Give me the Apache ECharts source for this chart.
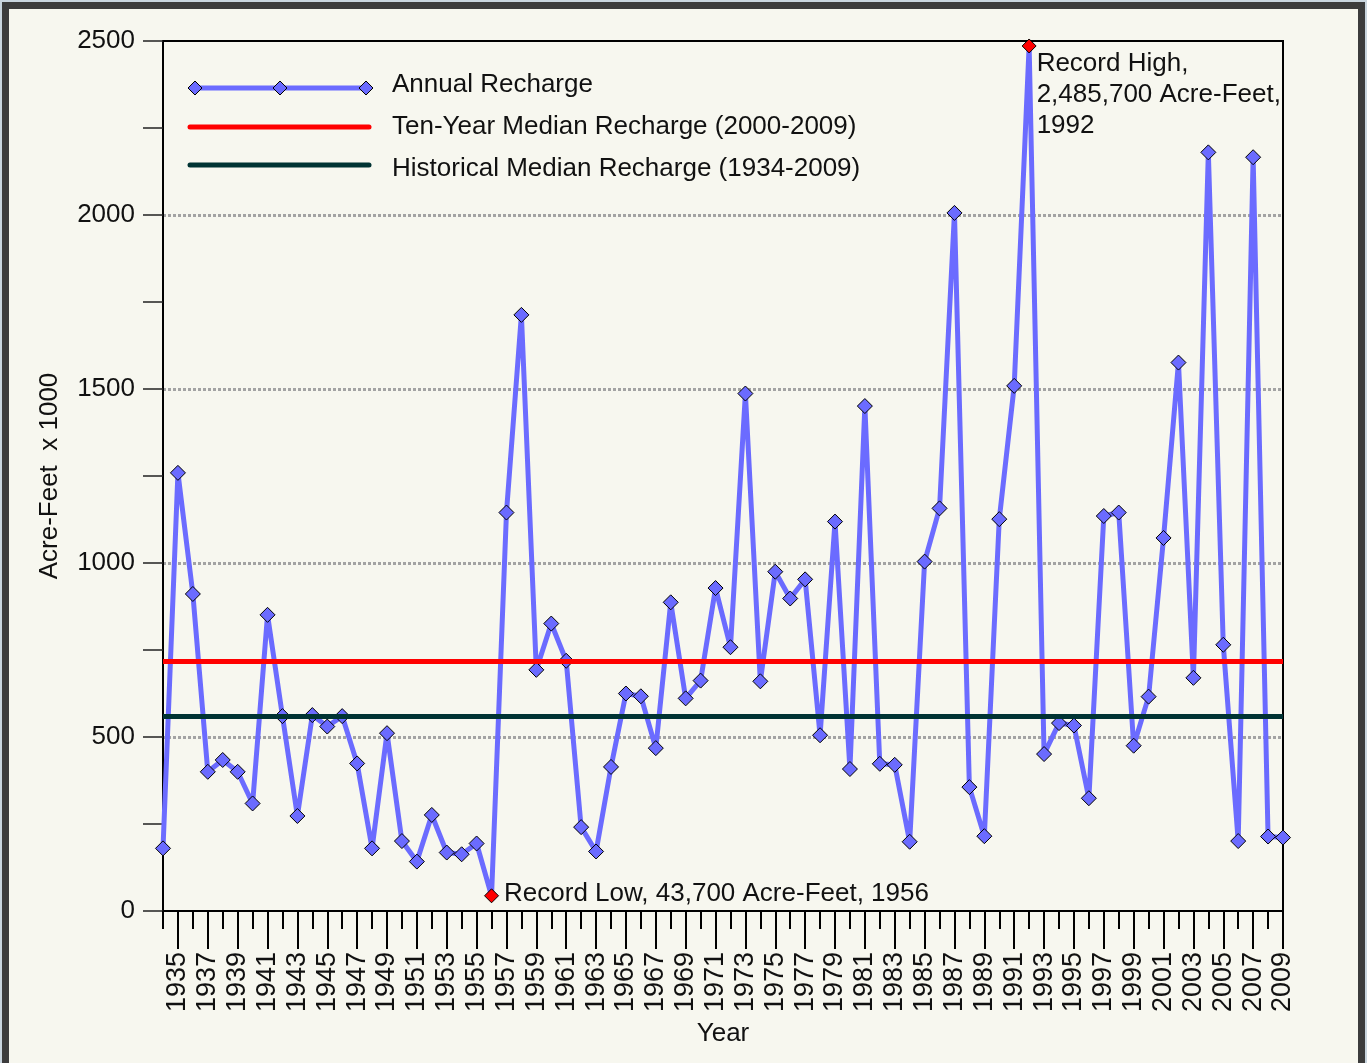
<!DOCTYPE html>
<html>
<head>
<meta charset="utf-8">
<title>Annual Recharge</title>
<script src="https://cdn.jsdelivr.net/npm/echarts@6/dist/echarts.min.js"></script>
<style>
    html, body { margin: 0; padding: 0; background: #c9d5de; }
    #frame {
        position: absolute; left: 2px; top: 2px; width: 1363px; height: 1070px;
        box-sizing: border-box; border: 7px solid #3c3c3c; background: #f7f7ef;
    }
    #chart { position: absolute; left: 0; top: 0; width: 1367px; height: 1063px; }
</style>
</head>
<body>
<div id="frame"></div>
<div id="chart"></div>
<script>
// 年份
const years = [
    '1934', '1935', '1936', '1937', '1938', '1939', '1940', '1941', '1942', '1943',
    '1944', '1945', '1946', '1947', '1948', '1949', '1950', '1951', '1952', '1953',
    '1954', '1955', '1956', '1957', '1958', '1959', '1960', '1961', '1962', '1963',
    '1964', '1965', '1966', '1967', '1968', '1969', '1970', '1971', '1972', '1973',
    '1974', '1975', '1976', '1977', '1978', '1979', '1980', '1981', '1982', '1983',
    '1984', '1985', '1986', '1987', '1988', '1989', '1990', '1991', '1992', '1993',
    '1994', '1995', '1996', '1997', '1998', '1999', '2000', '2001', '2002', '2003',
    '2004', '2005', '2006', '2007', '2008', '2009'
];

// 年补给量 (Acre-Feet x 1000)
const recharge = [
    180, 1259, 911, 400, 434, 400, 309, 851, 560, 273,
    563, 530, 560, 424, 180, 511, 201, 142, 276, 168,
    163, 194, 43.7, 1145, 1713, 693, 826, 719, 241, 171,
    414, 625, 617, 468, 887, 611, 662, 928, 758, 1487,
    660, 975, 898, 953, 505, 1119, 408, 1451, 423, 420,
    199, 1004, 1157, 2006, 356, 215, 1126, 1509, 2485.7, 451,
    540, 533, 324, 1135, 1145, 475, 616, 1072, 1576, 670,
    2180, 765, 201, 2166, 214, 211
];

// 中位数
const tenYearMedian = 717;
const historicalMedian = 560;

// 记录值标注
const recordYears = ['1956', '1992'];
const recordLabels = [
    'Record Low, 43,700 Acre-Feet, 1956',
    'Record High,\n2,485,700 Acre-Feet,\n1992'
];

// y轴刻度
const yTicks = [0, 500, 1000, 1500, 2000, 2500];

const FONT = '"Liberation Sans", Arial, sans-serif';
const BLUE = '#6b6bff';

const chart = echarts.init(document.getElementById('chart'));

const isOdd = (i) => parseInt(years[i], 10) % 2 === 1;

const seriesData = recharge.map((v, i) => {
    const r = recordYears.indexOf(years[i]);
    if (r < 0) return v;
    const high = r === 1;
    return {
        value: v,
        symbolSize: 14,
        itemStyle: { color: '#ff0000', borderColor: '#000', borderWidth: 1 },
        label: {
            show: true,
            formatter: recordLabels[r],
            position: 'right',
            distance: high ? 0 : 5,
            verticalAlign: high ? 'top' : 'middle',
            offset: high ? [0, 2] : [0, -2],
            fontSize: 26,
            lineHeight: 31,
            color: '#111',
            fontFamily: FONT
        }
    };
});

// 图例（三个菱形）
const legendGraphics = [
    { type: 'line', shape: { x1: 195, y1: 88, x2: 366, y2: 88 }, style: { stroke: BLUE, lineWidth: 5 } },
    ...[195, 280, 366].map(x => ({
        type: 'polygon',
        shape: { points: [[x, 81], [x + 7, 88], [x, 95], [x - 7, 88]] },
        style: { fill: BLUE, stroke: '#000', lineWidth: 1 }
    })),
    { type: 'line', shape: { x1: 190, y1: 127, x2: 369, y2: 127 }, style: { stroke: '#ff0000', lineWidth: 5, lineCap: 'round' } },
    { type: 'line', shape: { x1: 190, y1: 165, x2: 369, y2: 165 }, style: { stroke: '#003333', lineWidth: 5, lineCap: 'round' } },
    { type: 'text', x: 392, y: 85, style: { text: 'Annual Recharge', font: '26px ' + FONT, fill: '#111', verticalAlign: 'middle' } },
    { type: 'text', x: 392, y: 127, style: { text: 'Ten-Year Median Recharge (2000-2009)', font: '26px ' + FONT, fill: '#111', verticalAlign: 'middle' } },
    { type: 'text', x: 392, y: 169, style: { text: 'Historical Median Recharge (1934-2009)', font: '26px ' + FONT, fill: '#111', verticalAlign: 'middle' } }
];

const option = {
    animation: false,
    textStyle: { fontFamily: FONT },
    grid: {
        left: 163, top: 41, right: 84, bottom: 152,
        show: true, borderColor: '#000', borderWidth: 2, backgroundColor: 'transparent'
    },
    xAxis: [
        {
            type: 'category',
            data: years,
            boundaryGap: false,
            axisLine: { lineStyle: { color: '#000', width: 2 } },
            axisTick: { interval: 0, length: 18, lineStyle: { color: '#000', width: 2 } },
            axisLabel: { show: false },
            splitLine: { show: false }
        },
        {
            type: 'category',
            data: years,
            boundaryGap: false,
            position: 'bottom',
            axisLine: { show: false },
            axisTick: { interval: isOdd, length: 38, lineStyle: { color: '#000', width: 2 } },
            axisLabel: {
                interval: isOdd,
                rotate: 90,
                margin: 41,
                fontSize: 27,
                color: '#111'
            },
            splitLine: { show: false },
            name: 'Year',
            nameLocation: 'middle',
            nameGap: 110,
            nameTextStyle: { fontSize: 26, color: '#111' }
        }
    ],
    yAxis: [
        {
            type: 'value',
            min: 0,
            max: 2500,
            interval: 250,
            axisLine: { show: true, lineStyle: { color: '#000', width: 2 } },
            axisTick: { show: true, length: 20, lineStyle: { color: '#222', width: 1.5 } },
            axisLabel: {
                formatter: v => (yTicks.indexOf(v) >= 0 ? String(v) : ''),
                margin: 28,
                fontSize: 26,
                color: '#111'
            },
            splitLine: { show: false },
            name: 'Acre-Feet  x 1000',
            nameLocation: 'middle',
            nameGap: 100,
            nameTextStyle: { fontSize: 26, color: '#111' }
        },
        {
            type: 'value',
            min: 0,
            max: 2500,
            interval: 500,
            position: 'left',
            axisLine: { show: false },
            axisTick: { show: false },
            axisLabel: { show: false },
            splitLine: {
                showMinLine: false,
                showMaxLine: false,
                lineStyle: { color: '#a3a3a3', width: 3, type: [3, 2] }
            }
        }
    ],
    series: [
        {
            name: 'Medians',
            type: 'line',
            data: [],
            silent: true,
            z: 2,
            markLine: {
                symbol: 'none',
                silent: true,
                label: { show: false },
                data: [
                    { yAxis: tenYearMedian, lineStyle: { color: '#ff0000', width: 5, type: 'solid' } },
                    { yAxis: historicalMedian, lineStyle: { color: '#003333', width: 5, type: 'solid' } }
                ]
            }
        },
        {
            name: 'Annual Recharge',
            type: 'line',
            data: seriesData,
            z: 3,
            symbol: 'diamond',
            symbolSize: 15,
            showAllSymbol: true,
            lineStyle: { color: BLUE, width: 5 },
            itemStyle: { color: BLUE, borderColor: '#000', borderWidth: 1 }
        }
    ],
    graphic: legendGraphics
};

chart.setOption(option);
</script>
</body>
</html>
